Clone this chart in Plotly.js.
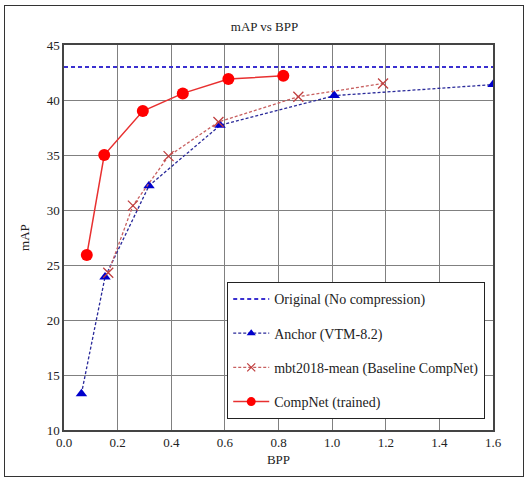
<!DOCTYPE html>
<html><head><meta charset="utf-8">
<script src="https://cdn.plot.ly/plotly-3.0.1.min.js"></script>
<style>
body{margin:0;padding:0;background:#fff;}
#chart{width:529px;height:480px;}
#frame{position:absolute;left:4px;top:5px;width:518px;height:470px;border:1px solid #333;pointer-events:none;}
</style></head>
<body>
<div id="chart"></div>
<div id="frame"></div>
<script>
const originalX = [0, 1.6];
const originalY = [43, 43];
const anchorX = [0.065, 0.153, 0.317, 0.582, 1.008, 1.6];
const anchorY = [13.3, 23.9, 32.2, 37.7, 40.4, 41.4];
const mbtX = [0.165, 0.257, 0.39, 0.576, 0.874, 1.19];
const mbtY = [24.3, 30.4, 34.9, 38.0, 40.3, 41.5];
const compX = [0.085, 0.15, 0.294, 0.443, 0.613, 0.818];
const compY = [25.9, 35.0, 39.0, 40.6, 41.9, 42.2];
const xTicks = [0, 0.2, 0.4, 0.6, 0.8, 1.0, 1.2, 1.4, 1.6];
const yTicks = [10, 15, 20, 25, 30, 35, 40, 45];
const seriesNames = ['Original (No compression)', 'Anchor (VTM-8.2)', 'mbt2018-mean (Baseline CompNet)', 'CompNet (trained)'];

const FAM = 'Liberation Serif, serif';
const styles = [
  {line: {color: '#3a30d0', width: 2, dash: '4px,3px'}},
  {line: {color: '#2a2a9a', width: 1.3, dash: '3px,2px'}, marker: {symbol: 'triangle-up', color: '#0000cc'}},
  {line: {color: '#c86060', width: 1.3, dash: '3px,2px'}, marker: {symbol: 'x-thin', line: {color: '#c04040', width: 1.3}, color: '#c04040'}},
  {line: {color: '#e83030', width: 1.5}, marker: {symbol: 'circle', color: '#ff0000'}}
];
const plotSizes = [0, 10, 10, 12];
const legendSizes = [0, 8, 8, 9];
const xs = [originalX, anchorX, mbtX, compX];
const ys = [originalY, anchorY, mbtY, compY];

const traces = [];
for (let i = 0; i < 4; i++) {
  const mode = i === 0 ? 'lines' : 'lines+markers';
  const main = {x: xs[i], y: ys[i], mode: mode, name: seriesNames[i], showlegend: false, line: styles[i].line};
  const leg = {x: [null], y: [null], mode: mode, name: seriesNames[i], legendgroup: 'g' + i, showlegend: true, line: styles[i].line};
  if (styles[i].marker) {
    main.marker = Object.assign({}, styles[i].marker, {size: plotSizes[i]});
    leg.marker = Object.assign({}, styles[i].marker, {size: legendSizes[i]});
  }
  traces.push(main);
  traces.push(leg);
}

const layout = {
  width: 529, height: 480,
  margin: {l: 64, r: 36, t: 45, b: 50},
  paper_bgcolor: '#fff', plot_bgcolor: '#fff',
  font: {family: FAM, size: 13, color: '#222'},
  title: {text: 'mAP vs BPP', x: 0.5, xref: 'container', y: 0.944, yref: 'container', yanchor: 'middle',
          font: {family: FAM, size: 13, color: '#222'}},
  xaxis: {range: [0, 1.6], tickvals: xTicks, tickformat: '.1f', showgrid: true, gridcolor: '#808080', gridwidth: 1,
          showline: true, mirror: true, linecolor: '#444', linewidth: 1.5, zeroline: false, ticks: '',
          tickfont: {family: FAM, size: 13}, title: {text: 'BPP', font: {family: FAM, size: 13}, standoff: 6}},
  yaxis: {range: [10, 45], tickvals: yTicks, showgrid: true, gridcolor: '#808080', gridwidth: 1,
          showline: true, mirror: true, linecolor: '#444', linewidth: 1.5, zeroline: false, ticks: '',
          tickfont: {family: FAM, size: 13}, title: {text: 'mAP', font: {family: FAM, size: 13}, standoff: 14}},
  legend: {x: 0.38, y: 0.384, xanchor: 'left', yanchor: 'top', bgcolor: '#fff', bordercolor: '#222', borderwidth: 1.2,
           font: {family: FAM, size: 14, color: '#222'}, traceorder: 'grouped', tracegroupgap: 13, itemwidth: 36},
  showlegend: true
};
Plotly.newPlot('chart', traces, layout, {displayModeBar: false});
</script>
</body></html>
